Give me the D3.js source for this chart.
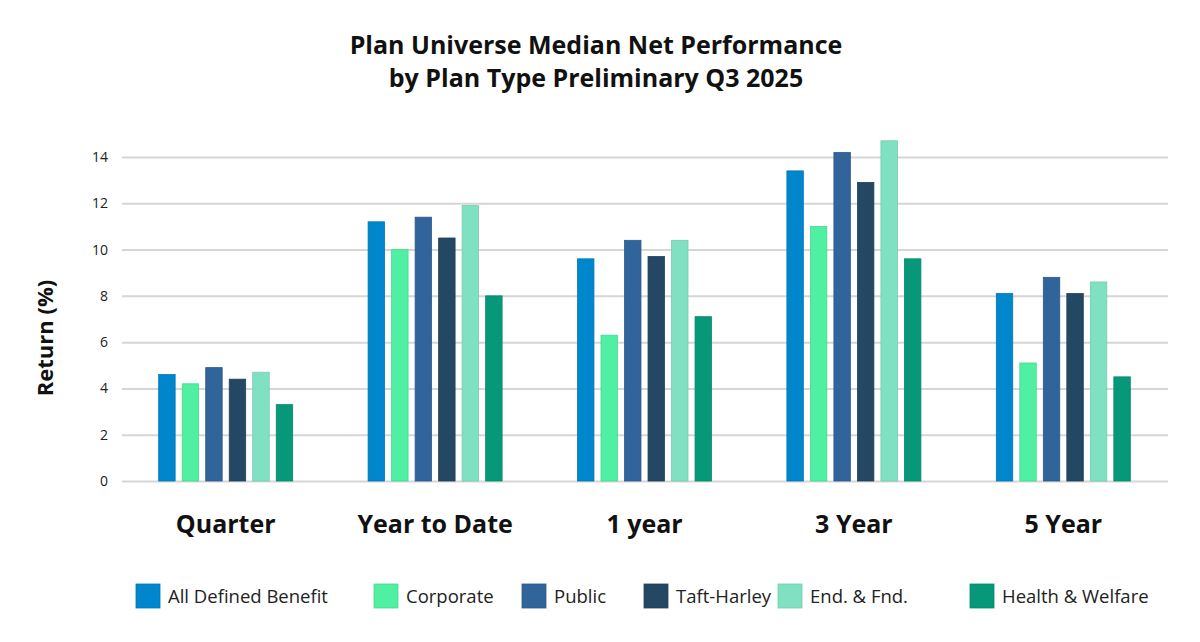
<!DOCTYPE html>
<meta charset="utf-8">
<title>Plan Universe Median Net Performance</title>
<script src="https://cdn.jsdelivr.net/npm/d3@7"></script>
<style>
  body { margin: 0; background: #fff; }
  text { font-family: "Open Sans", Lato, sans-serif; }
</style>
<div id="chart"></div>
<script>
  // data
  var periods = ["Quarter", "Year to Date", "1 year", "3 Year", "5 Year"];
  var planTypes = ["All Defined Benefit", "Corporate", "Public", "Taft-Harley", "End. & Fnd.", "Health & Welfare"];
  var allDB      = [4.6, 11.2, 9.6, 13.4, 8.1];
  var corporate  = [4.2, 10.0, 6.3, 11.0, 5.1];
  var publicPlan = [4.9, 11.4, 10.4, 14.2, 8.8];
  var taftHarley = [4.4, 10.5, 9.7, 12.9, 8.1];
  var endFnd     = [4.7, 11.9, 10.4, 14.7, 8.6];
  var healthWelf = [3.3, 8.0, 7.1, 9.6, 4.5];
  var yTicks = [0, 2, 4, 6, 8, 10, 12, 14];
  var colors = ["#0086cc", "#50f0a2", "#31649b", "#244763", "#80e1c2", "#069878"];

  var seriesValues = [allDB, corporate, publicPlan, taftHarley, endFnd, healthWelf];

  var width = 1200, height = 642;
  var svg = d3.select("#chart").append("svg")
    .attr("width", width)
    .attr("height", height);

  // title
  svg.append("text")
    .attr("x", 596).attr("y", 54)
    .attr("text-anchor", "middle")
    .attr("font-size", 25).attr("font-weight", 700).attr("fill", "#111")
    .text("Plan Universe Median Net Performance");
  svg.append("text")
    .attr("x", 596).attr("y", 87)
    .attr("text-anchor", "middle")
    .attr("font-size", 25).attr("font-weight", 700).attr("fill", "#111")
    .text("by Plan Type Preliminary Q3 2025");

  var x0 = d3.scaleBand()
    .domain(periods)
    .range([121, 1168])
    .paddingInner(0.36)
    .paddingOuter(0.18);

  var x1 = d3.scaleBand()
    .domain(planTypes)
    .range([0, x0.bandwidth()])
    .paddingInner(0.3);

  var y = d3.scaleLinear()
    .domain([0, 14])
    .range([481, 157]);

  var color = d3.scaleOrdinal()
    .domain(planTypes)
    .range(colors);

  // grid + y axis labels
  var yAxis = svg.append("g")
    .attr("transform", "translate(122,0)")
    .call(d3.axisLeft(y).tickValues(yTicks).tickSize(-1046).tickPadding(14).tickFormat(d3.format("d")));
  yAxis.select(".domain").remove();
  yAxis.selectAll(".tick line").attr("stroke", "#d6d6d6").attr("stroke-width", 2);
  yAxis.selectAll(".tick text")
    .attr("font-size", 14).attr("fill", "#222")
    .style("font-family", "'Open Sans', Lato, sans-serif");

  svg.append("text")
    .attr("transform", "translate(53,338) rotate(-90)")
    .attr("text-anchor", "middle")
    .attr("font-size", 22).attr("font-weight", 700).attr("fill", "#111")
    .text("Return (%)");

  // bars
  var groups = svg.append("g").selectAll("g")
    .data(periods)
    .enter().append("g")
    .attr("transform", function (d) { return "translate(" + x0(d) + ",0)"; });

  groups.selectAll("rect")
    .data(function (p, i) {
      return planTypes.map(function (t, j) { return { key: t, value: seriesValues[j][i] }; });
    })
    .enter().append("rect")
    .attr("x", function (d) { return x1(d.key); })
    .attr("y", function (d) { return y(d.value); })
    .attr("width", x1.bandwidth())
    .attr("height", function (d) { return y(0) - y(d.value); })
    .attr("fill", function (d) { return color(d.key); })
    .attr("stroke", function (d) { return d3.color(color(d.key)).darker(0.3); })
    .attr("stroke-width", 0.8);

  // x axis labels
  var xAxis = svg.append("g")
    .attr("transform", "translate(0,481)")
    .call(d3.axisBottom(x0).tickSize(0).tickPadding(34));
  xAxis.select(".domain").remove();
  xAxis.selectAll(".tick text")
    .attr("font-size", 25).attr("font-weight", 700).attr("fill", "#111")
    .style("font-family", "'Open Sans', Lato, sans-serif");

  // legend
  var legendX = [136, 374, 522, 644, 778, 970];
  var legend = svg.append("g").selectAll("g")
    .data(planTypes)
    .enter().append("g")
    .attr("transform", function (d, i) { return "translate(" + legendX[i] + ",584)"; });
  legend.append("rect")
    .attr("width", 24).attr("height", 24)
    .attr("fill", function (d) { return color(d); })
    .attr("stroke", function (d) { return d3.color(color(d)).darker(0.3); })
    .attr("stroke-width", 0.8);
  legend.append("text")
    .attr("x", 32).attr("y", 19)
    .attr("font-size", 18.5).attr("fill", "#222")
    .text(function (d) { return d; });
</script>
